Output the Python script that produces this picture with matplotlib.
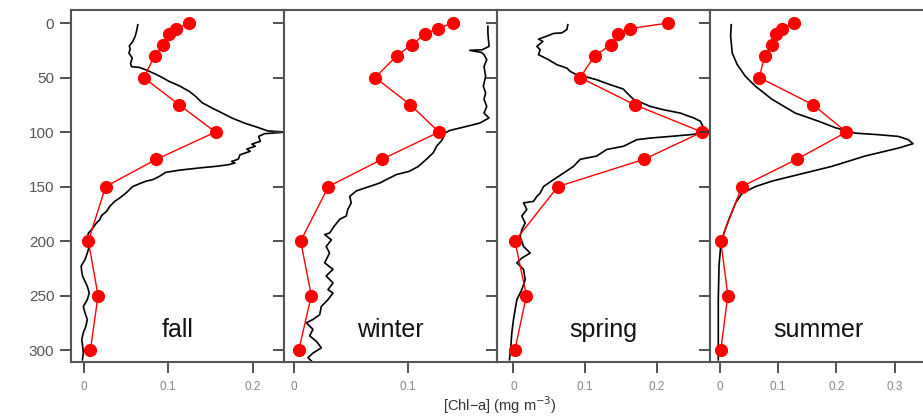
"""Seasonal chlorophyll-a depth profiles: continuous fluorescence casts (black)
against discrete bottle samples (red), one panel per season."""

import matplotlib
matplotlib.use("Agg")
import matplotlib.pyplot as plt

plt.rcParams["font.family"] = ["Liberation Sans", "DejaVu Sans"]

SEASONS = ["fall", "winter", "spring", "summer"]

# Bottle sample depths (m), shared by all seasons.
SAMPLE_DEPTH = [0, 5, 10, 20, 30, 50, 75, 100, 125, 150, 200, 250, 300]

# Bottle [Chl-a] (mg m-3) at SAMPLE_DEPTH.
fall_bottle = [0.125, 0.109, 0.101, 0.094, 0.084, 0.071, 0.113, 0.156,
               0.086, 0.026, 0.0055, 0.017, 0.008]
winter_bottle = [0.139, 0.126, 0.115, 0.103, 0.090, 0.071, 0.102, 0.127,
                 0.077, 0.030, 0.0056, 0.015, 0.004]
spring_bottle = [0.215, 0.163, 0.146, 0.136, 0.113, 0.093, 0.169, 0.263,
                 0.182, 0.062, 0.002, 0.018, 0.002]
summer_bottle = [0.128, 0.106, 0.097, 0.090, 0.077, 0.068, 0.160, 0.217,
                 0.132, 0.038, 0.002, 0.014, 0.002]

# Fluorescence casts: depth (m) and [Chl-a] (mg m-3).
fall_cast_depth = [1.5, 6, 12, 17, 21, 24, 27.5, 32, 37, 40, 40.7, 43, 47, 50,
                   53.5, 57.5, 62.7, 67, 73, 78, 82.6, 87, 92, 96, 99, 100,
                   101.5, 104, 108.5, 111, 113, 115.6, 117.7, 120.8, 124.8,
                   127, 128.4, 130, 131.5, 133, 135, 137, 140.7, 143.7, 145,
                   147.4, 150, 156, 160.5, 163.6, 168, 172.8, 176.8, 180.4,
                   183.5, 189.6, 192.7, 198.8, 205, 211, 217, 223, 228, 232.4,
                   237, 241.6, 247.7, 253.8, 260, 266, 272, 278, 284, 290.5,
                   296.6, 302.8, 309]
fall_cast = [0.064, 0.063, 0.061, 0.058, 0.054, 0.055, 0.0535, 0.0574, 0.0555,
             0.0566, 0.066, 0.074, 0.0855, 0.093, 0.101, 0.113, 0.125, 0.132,
             0.140, 0.152, 0.164, 0.175, 0.191, 0.207, 0.218, 0.240, 0.214,
             0.207, 0.209, 0.199, 0.203, 0.193, 0.197, 0.185, 0.183, 0.175,
             0.179, 0.171, 0.156, 0.136, 0.113, 0.097, 0.0895, 0.0816, 0.074,
             0.066, 0.058, 0.050, 0.0426, 0.0367, 0.031, 0.027, 0.021, 0.019,
             0.015, 0.0094, 0.0055, 0.0043, 0.0066, 0.0043, 0.0016, -0.003,
             -0.0023, -0.0012, 0.0016, 0.0043, 0.0066, 0.0043, -0.0004,
             0.0016, 0.0043, 0.0027, -0.0004, -0.0023, -0.0012, -0.0004,
             -0.0015]

winter_cast_depth = [3, 9, 21.4, 24.5, 25, 27, 29, 33.6, 39.8, 49, 58, 64, 70,
                     76.5, 82.6, 87, 91.7, 94.8, 98.5, 101, 107, 113, 119, 125,
                     131.5, 136, 139, 142, 146.8, 151, 154, 159, 165, 171,
                     177, 180, 186.5, 192.7, 194, 199, 205, 211, 220, 226,
                     232, 238.5, 244.6, 247.7, 253.8, 260, 267.6, 272, 275,
                     281, 287, 292, 298, 302.8, 307, 310]
winter_cast = [0.170, 0.170, 0.171, 0.165, 0.154, 0.1645, 0.1666, 0.169,
               0.1666, 0.168, 0.166, 0.168, 0.1666, 0.169, 0.1666, 0.171,
               0.163, 0.1513, 0.1367, 0.132, 0.130, 0.125, 0.122, 0.116,
               0.109, 0.101, 0.0897, 0.084, 0.075, 0.063, 0.0545, 0.0487,
               0.050, 0.047, 0.0457, 0.040, 0.035, 0.031, 0.0267, 0.0326,
               0.028, 0.031, 0.0267, 0.034, 0.028, 0.034, 0.0296, 0.034,
               0.0296, 0.0238, 0.0223, 0.0164, 0.0106, 0.0164, 0.0135,
               0.0194, 0.0238, 0.0164, 0.012, 0.015]

spring_cast_depth = [1.5, 6, 9, 9.5, 12, 14.7, 16.8, 21.4, 24.5, 29, 33.6,
                     38.2, 41.3, 44.3, 47.4, 49.5, 52, 56.6, 60.5, 64, 70,
                     76.5, 79.5, 82.6, 87, 90, 96, 100, 102.4, 104, 105.5, 107,
                     113, 116, 122, 125, 131.5, 137.6, 143.7, 150, 156, 159,
                     163.6, 165, 171, 177, 183.5, 189.6, 195.7, 205, 211,
                     215.6, 220, 226, 235.5, 244.6, 253.8, 263, 272, 284,
                     296.6, 309]
spring_cast = [0.0758, 0.0744, 0.0674, 0.0558, 0.0465, 0.0349, 0.041, 0.0326,
               0.0372, 0.0349, 0.0488, 0.0605, 0.0744, 0.079, 0.088, 0.102,
               0.116, 0.135, 0.153, 0.158, 0.1674, 0.191, 0.209, 0.2326,
               0.251, 0.2605, 0.265, 0.275, 0.2465, 0.2186, 0.191, 0.172,
               0.1535, 0.130, 0.116, 0.093, 0.0837, 0.0698, 0.0558, 0.0419,
               0.0372, 0.0326, 0.0279, 0.014, 0.0186, 0.0116, 0.0163, 0.0116,
               0.0093, 0.014, 0.0233, 0.0116, 0.0047, 0.014, 0.0163, 0.0116,
               0.0047, 0.0023, 0.0, -0.0023, -0.0037, -0.0056]

summer_cast_depth = [1.5, 12, 27.5, 38, 49, 58, 70, 82.6, 90, 96, 101, 102.4,
                     104, 107, 110.7, 114.7, 122, 131.5, 139, 145, 150, 156,
                     165, 180, 192.7, 205, 223, 254, 309]
summer_cast = [0.0199, 0.0188, 0.0216, 0.030, 0.0443, 0.0614, 0.0898, 0.1295,
               0.169, 0.198, 0.232, 0.2716, 0.306, 0.323, 0.331, 0.306, 0.249,
               0.192, 0.135, 0.0898, 0.0614, 0.0386, 0.0273, 0.0159, 0.0074,
               0.0017, -0.0011, -0.0023, -0.0023]

# Per-panel x range and tick positions.
XLIMS = [(-0.015, 0.237), (-0.009, 0.178), (-0.023, 0.274), (-0.0165, 0.355)]
XTICKS = [[0, 0.1, 0.2], [0, 0.1], [0, 0.1, 0.2], [0, 0.1, 0.2, 0.3]]

casts = [(fall_cast, fall_cast_depth), (winter_cast, winter_cast_depth),
         (spring_cast, spring_cast_depth), (summer_cast, summer_cast_depth)]
bottles = [fall_bottle, winter_bottle, spring_bottle, summer_bottle]

fig = plt.figure(figsize=(9.23, 4.17), dpi=100)
W, H = 923.0, 417.0
left0, panel_w = 71.0, 213.0
top, bottom = 10.0, 362.0

for i, season in enumerate(SEASONS):
    # the last panel runs a little past the right edge of the figure
    width = panel_w + (4.0 if i == 3 else 0.0)
    ax = fig.add_axes([(left0 + i * panel_w) / W, 1 - bottom / H,
                       width / W, (bottom - top) / H])
    cx, cd = casts[i]
    ax.plot(cx, cd, color="black", lw=1.2, zorder=2)
    ax.plot(bottles[i], SAMPLE_DEPTH, color="#ff0000", lw=1.0, marker="o",
            ms=8.5, mec="#ff0000", zorder=3, clip_on=False)

    ax.set_xlim(*XLIMS[i])
    ax.set_ylim(311, -12)
    ax.set_yticks(range(0, 301, 50))
    ax.set_xticks(XTICKS[i])
    ax.set_xticklabels([f"{t:g}" for t in XTICKS[i]])
    ax.tick_params(axis="x", length=8, width=1.2, color="#333333",
                   labelsize=8.5, labelcolor="#888888", pad=6)
    ax.tick_params(axis="y", length=8, width=1.2, color="#333333",
                   labelsize=11, labelcolor="#555555", pad=4,
                   labelleft=(i == 0))
    for sp in ax.spines.values():
        sp.set_color("#555555")
        sp.set_linewidth(1.5)

    ax.text(0.5, 0.09, season, transform=ax.transAxes, ha="center",
            va="center", fontsize=18, color="#111111")

fig.text(500 / W, 1 - 405 / H, "[Chl\u2212a] (mg m$^{-3}$)", ha="center",
         va="center", fontsize=10.5, color="#333333")

fig.savefig("out.png", dpi=100)
